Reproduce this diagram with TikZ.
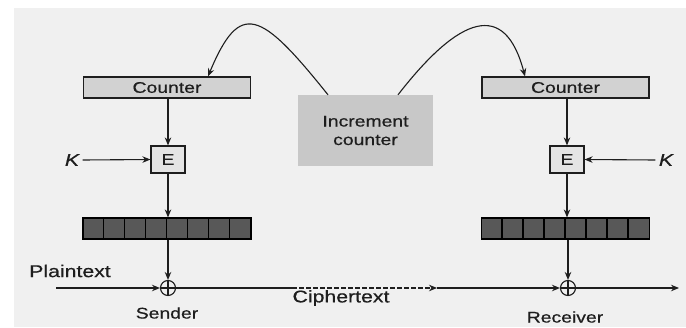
\documentclass[tikz,border=0pt]{standalone}
\usepackage{fontspec}
\setmainfont{Liberation Sans}[FakeStretch=1.25, FakeBold=0.6]
\usetikzlibrary{arrows.meta}
\definecolor{panel}{HTML}{F0F0F0}
\definecolor{cntfill}{HTML}{D2D2D2}
\definecolor{efill}{HTML}{E4E4E4}
\definecolor{incfill}{HTML}{C8C8C8}
\definecolor{cellfill}{HTML}{585858}
\definecolor{ink}{HTML}{1E1E1E}
\begin{document}
\begin{tikzpicture}[x=1pt,y=-1pt,
  every node/.style={text=ink, font=\fontsize{15.5}{18.5}\selectfont},
  cntbox/.style={draw=ink, fill=cntfill, line width=1.2pt, minimum width=167pt, minimum height=21pt, inner sep=0pt},
  ebox/.style={draw=ink, fill=efill, line width=1.2pt, minimum width=34pt, minimum height=27pt, inner sep=0pt},
  blkbox/.style={draw=black, fill=cellfill, line width=1.2pt, minimum width=168pt, minimum height=21pt, inner sep=0pt},
  incbox/.style={fill=incfill, minimum width=135pt, minimum height=71pt, align=center, inner sep=0pt},
  xorn/.style={circle, draw=ink, line width=1.1pt, minimum size=15pt, inner sep=0pt,
    path picture={\draw[ink, line width=1.1pt]
      (path picture bounding box.north) -- (path picture bounding box.south)
      (path picture bounding box.west) -- (path picture bounding box.east);}},
  arr/.style={draw=ink, line width=1.1pt, -{Stealth[length=8pt,width=6.5pt]}},
  lbl/.style={font=\fontsize{17}{20}\selectfont}
]
\useasboundingbox (0,0) rectangle (686,327);
\fill[white] (0,0) rectangle (686,327);
\fill[panel] (14,8) rectangle (686,327);

% increment counter box
\node[incbox] (incr) at (365.5,130.5) {Increment\\counter};

% sender side
\node[cntbox] (cntL) at (167,87.5) {Counter};
\node[ebox] (eL) at (168,159.5) {E};
\node[font=\fontsize{17}{18}\selectfont\itshape] (kL) at (72,160) {K};
\node[blkbox] (blkL) at (167,228.5) {};
\foreach \i in {1,...,7}
  \draw[black, line width=1.2pt] ([xshift=\i*21pt]blkL.south west) -- ([xshift=\i*21pt]blkL.north west);
\node[xorn] (xL) at (168,288) {};
\node[lbl] (pt) at (70,271) {Plaintext};
\node (snd) at (167,313) {Sender};

% receiver side
\node[cntbox] (cntR) at (565.5,87.5) {Counter};
\node[ebox] (eR) at (567,159.5) {E};
\node[font=\fontsize{17}{18}\selectfont\itshape] (kR) at (666,160) {K};
\node[blkbox] (blkR) at (565.5,228.5) {};
\foreach \i in {1,...,7}
  \draw[black, line width=1.2pt] ([xshift=\i*21pt]blkR.south west) -- ([xshift=\i*21pt]blkR.north west);
\node[xorn] (xR) at (568,288) {};
\node (rcv) at (565,317) {Receiver};

\node[lbl] (ct) at (341,298) {Ciphertext};

% free ends of the data line
\coordinate (pin) at (56,288);
\coordinate (cA) at (292,288);
\coordinate (cB) at (437,288);
\coordinate (pout) at (679,288);

% sender flow
\draw[arr] (cntL.south -| eL) -- (eL.north);
\draw[arr] (kL.east) -- (eL.west);
\draw[arr] (eL.south) -- (blkL.north -| eL);
\draw[arr] (blkL.south -| xL) -- (xL.north);
\draw[arr] (pin) -- (xL.west);

% receiver flow
\draw[arr] (cntR.south -| eR) -- (eR.north);
\draw[arr] (kR.west) -- (eR.east);
\draw[arr] (eR.south) -- (blkR.north -| eR);
\draw[arr] (blkR.south -| xR) -- (xR.north);
\draw[arr] (xR.east) -- (pout);

% ciphertext channel
\draw[draw=ink, line width=1.1pt] (xL.east) -- (cA);
\draw[arr, dash pattern=on 5pt off 2pt] (cA) -- (cB);
\draw[arr] (cB) -- (xR.west);

% counter increments
\draw[arr] ([xshift=-37.5pt]incr.north) .. controls (260,10) and (240,0) .. ([xshift=41pt]cntL.north);
\draw[arr] ([xshift=32.5pt]incr.north) .. controls (460,15) and (505,0) .. ([xshift=-40.5pt]cntR.north);
\end{tikzpicture}
\end{document}
